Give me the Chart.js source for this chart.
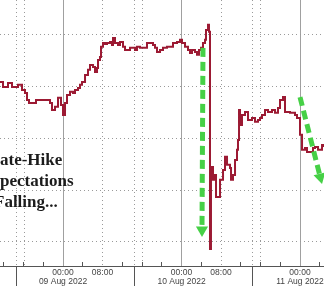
<!DOCTYPE html>
<html>
<head>
<meta charset="utf-8">
<script src="https://cdn.jsdelivr.net/npm/chart.js@4/dist/chart.umd.min.js"></script>
<style>
  html, body { margin: 0; padding: 0; background: #fff; }
  canvas { display: block; }
</style>
</head>
<body>
<canvas id="c" width="324" height="286"></canvas>
<script>
// hours from 09 Aug 2022 00:00, implied hike (bps)
var hours = [-12.76, -12.15, -11.14, -10.33, -9.11, -8.30, -7.70, -7.29, -6.89, -5.47,
  -2.63, -2.23, -1.62, -1.01, -0.41, 0.00, 0.41, 0.81, 1.42, 2.03,
  2.43, 3.04, 3.44, 3.85, 4.46, 5.06, 5.47, 6.08, 6.48, 6.89,
  7.09, 7.49, 7.70, 8.10, 8.51, 8.91, 9.52, 9.92, 10.13, 10.53,
  11.14, 11.54, 12.15, 12.56, 13.57, 14.58, 14.99, 15.59, 17.01, 18.23,
  18.63, 19.04, 19.65, 20.25, 21.06, 22.28, 23.09, 23.70, 24.10, 24.71,
  25.32, 25.72, 26.13, 26.73, 27.14, 27.54, 27.95, 28.35, 28.76, 28.96,
  29.37, 29.57, 29.77, 29.97, 30.38, 30.78, 30.99, 31.80, 32.41, 32.81,
  33.22, 33.82, 34.03, 34.43, 34.84, 35.24, 35.44, 35.65, 35.85, 36.25,
  36.86, 37.47, 38.28, 38.89, 39.49, 39.90, 40.30, 40.91, 41.52, 42.33,
  42.94, 43.54, 43.95, 44.56, 44.96, 45.97, 46.99, 47.39, 48.00, 48.41,
  49.01, 49.42, 50.63, 51.04, 51.65, 52.46, 52.86];
var expect = [68.18, 67.99, 68.14, 67.99, 68.07, 67.87, 67.76, 67.49, 67.37, 67.49,
  67.37, 67.10, 67.22, 67.57, 67.29, 66.91, 67.37, 67.68, 67.80, 67.76,
  67.87, 67.95, 68.07, 68.18, 68.45, 68.65, 68.84, 68.76, 68.57, 68.72,
  69.03, 69.15, 69.54, 69.69, 69.65, 69.69, 69.73, 69.61, 69.88, 69.69,
  69.61, 69.73, 69.54, 69.42, 69.50, 69.42, 69.54, 69.50, 69.69, 69.61,
  69.50, 69.34, 69.42, 69.50, 69.54, 69.69, 69.73, 69.81, 69.69, 69.54,
  69.42, 69.30, 69.42, 69.34, 69.23, 69.42, 69.50, 69.69, 69.81, 70.19,
  70.39, 70.12, 61.73, 64.90, 64.40, 64.59, 63.74, 64.40, 64.78, 65.29,
  64.98, 64.86, 64.40, 64.59, 65.17, 65.56, 65.94, 67.10, 66.52, 66.91,
  67.02, 66.71, 66.79, 66.64, 66.71, 66.79, 66.91, 67.10, 67.02, 67.10,
  66.99, 67.18, 67.49, 67.60, 67.02, 66.99, 66.91, 66.79, 66.14, 65.56,
  65.63, 65.48, 65.63, 65.67, 65.56, 65.75, 65.67];

var gridVals = [62, 64, 66, 68, 70];
var dayTicks = [0, 24, 48];
var dotTicks = [-9.5, -7.7, 8, 14.4, 16.2, 32, 38.3, 40.1];
var sepTicks = [-9.5, 14.4, 38.3];
var minorTicks = [-12, -8, -4, 4, 12, 16, 20, 28, 36, 40, 44, 52];
var labelTicks = [0, 8, 24, 32, 48];
var labelTime = ['00:00', '08:00', '00:00', '08:00', '00:00'];
var labelDate = ['09 Aug 2022', '', '10 Aug 2022', '', '11 Aug 2022'];

var arrow1H = [28.35, 28.15];
var arrow1V = [69.50, 62.46];
var arrow2H = [48.00, 52.11];
var arrow2V = [67.60, 64.50];

var noteLines = ['ate-Hike', 'pectations', 'Falling...'];

var xMin = -12.76, xMax = 52.86;
var yMin = 61.07, yMax = 71.35;

var green = '#46d046';

function fixed(vals) {
  return function (scale) {
    scale.ticks = vals.map(function (v) { return { value: v }; });
  };
}
function flat(scale) {
  scale.height = 0;
  scale.paddingLeft = 0;
  scale.paddingRight = 0;
}
function hiddenX(vals, weight, grid, dash) {
  return {
    type: 'linear', position: 'bottom', min: xMin, max: xMax, weight: weight,
    afterBuildTicks: fixed(vals), afterFit: flat,
    ticks: { display: false },
    grid: grid,
    border: { display: false, dash: dash || [] }
  };
}

var notePlugin = {
  id: 'note',
  afterDraw: function (chart) {
    var ctx = chart.ctx;
    ctx.save();
    ctx.fillStyle = '#1c1c1c';
    ctx.font = 'bold 17px "Liberation Serif"';
    ctx.textBaseline = 'alphabetic';
    ctx.fillText(noteLines[0], 0, 165);
    ctx.fillText(noteLines[1], 0, 186);
    ctx.fillText(noteLines[2], -6, 207);
    ctx.restore();
  }
};

new Chart(document.getElementById('c'), {
  type: 'line',
  data: {
    datasets: [
      {
        data: arrow1H.map(function (h, i) { return { x: h, y: arrow1V[i] }; }),
        borderColor: green, borderWidth: 5, borderDash: [9, 5],
        pointRadius: [0, 7], pointStyle: 'triangle', pointRotation: [0, 180],
        pointBackgroundColor: green, pointBorderWidth: 0, order: 0
      },
      {
        data: arrow2H.map(function (h, i) { return { x: h, y: arrow2V[i] }; }),
        borderColor: green, borderWidth: 5, borderDash: [9, 5],
        pointRadius: [0, 7], pointStyle: 'triangle', pointRotation: [0, 165.8],
        pointBackgroundColor: green, pointBorderWidth: 0, order: 0
      },
      {
        data: hours.map(function (h, i) { return { x: h, y: expect[i] }; }),
        borderColor: '#9c1a33', borderWidth: 2, pointRadius: 0,
        stepped: true, order: 2
      }
    ]
  },
  options: {
    responsive: false,
    animation: false,
    events: [],
    layout: { padding: 0, autoPadding: false },
    plugins: { legend: { display: false }, tooltip: { enabled: false } },
    scales: {
      x: {
        type: 'linear', position: 'bottom', min: xMin, max: xMax, weight: 5,
        afterBuildTicks: fixed(labelTicks),
        afterFit: function (s) { s.height = 20; s.paddingLeft = 0; s.paddingRight = 0; },
        grid: { drawOnChartArea: false, drawTicks: false },
        border: { display: true, color: '#555', width: 1 },
        ticks: {
          autoSkip: false, maxRotation: 0, padding: 2, color: '#444',
          font: { family: 'Liberation Sans', size: 8.5, lineHeight: 1.1 },
          callback: function (v, i) {
            return labelDate[i] ? [labelTime[i], labelDate[i]] : labelTime[i];
          }
        }
      },
      xs: hiddenX(dayTicks, 1, { color: '#a0a0a0', lineWidth: 1, drawTicks: false }),
      xd: hiddenX(dotTicks, 1, { color: '#9a9a9a', lineWidth: 1, drawTicks: false }, [1, 3]),
      xsep: hiddenX(sepTicks, 1, { drawOnChartArea: false, drawTicks: true, tickLength: 20, tickColor: '#555', tickWidth: 1 }),
      xm: hiddenX(minorTicks, 1, { drawOnChartArea: false, drawTicks: true, tickLength: -4, tickColor: '#555', tickWidth: 1 }),
      y: {
        type: 'linear', position: 'left', min: yMin, max: yMax,
        afterBuildTicks: fixed(gridVals),
        afterFit: function (s) { s.width = 0; },
        ticks: { display: false },
        grid: { color: '#9a9a9a', lineWidth: 1, drawTicks: false },
        border: { display: false, dash: [1, 3] }
      }
    }
  },
  plugins: [notePlugin]
});
</script>
</body>
</html>
